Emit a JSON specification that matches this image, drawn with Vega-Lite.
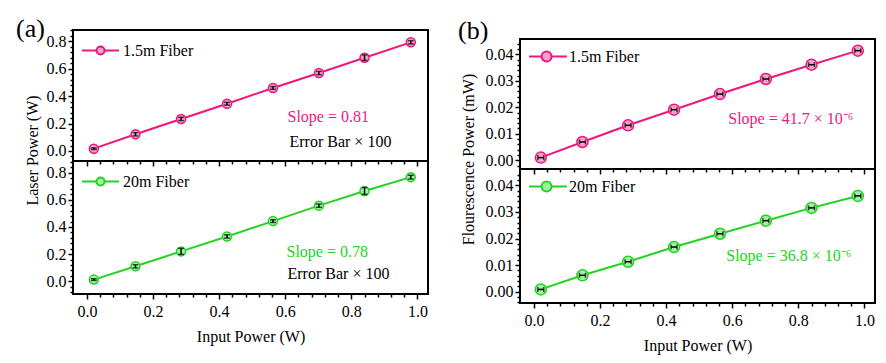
{
  "$schema": "https://vega.github.io/schema/vega-lite/v6.json",
  "background": "white",
  "padding": {"left": 16, "top": 16, "right": 5, "bottom": 5},
  "config": {
    "font": "Liberation Serif, Times New Roman, serif",
    "view": {"stroke": "black", "strokeWidth": 2},
    "axis": {
      "labelFont": "Liberation Serif, Times New Roman, serif", "labelFontSize": 16, "labelColor": "black",
      "titleFont": "Liberation Serif, Times New Roman, serif", "titleFontSize": 16, "titleFontWeight": "normal", "titleColor": "black",
      "tickColor": "black", "tickWidth": 1.5, "tickSize": 5, "domain": false, "grid": false, "labelPadding": 2
    },
    "axisX": {"labelPadding": 4, "titlePadding": 9},
    "legend": {"labelFont": "Liberation Serif, Times New Roman, serif", "labelFontSize": 16, "labelColor": "black"},
    "title": {"font": "Liberation Serif, Times New Roman, serif", "fontWeight": "normal", "color": "black"},
    "text": {"font": "Liberation Serif, Times New Roman, serif"}
  },
  "datasets": {
    "a1": [
      {"x": 0.021, "y": 0.017, "lo": 0.011, "hi": 0.023, "s": "1.5m Fiber"},
      {"x": 0.147, "y": 0.122, "lo": 0.110, "hi": 0.134, "s": "1.5m Fiber"},
      {"x": 0.285, "y": 0.234, "lo": 0.222, "hi": 0.246, "s": "1.5m Fiber"},
      {"x": 0.424, "y": 0.345, "lo": 0.335, "hi": 0.355, "s": "1.5m Fiber"},
      {"x": 0.563, "y": 0.460, "lo": 0.450, "hi": 0.470, "s": "1.5m Fiber"},
      {"x": 0.702, "y": 0.569, "lo": 0.557, "hi": 0.581, "s": "1.5m Fiber"},
      {"x": 0.840, "y": 0.681, "lo": 0.661, "hi": 0.701, "s": "1.5m Fiber"},
      {"x": 0.980, "y": 0.793, "lo": 0.781, "hi": 0.805, "s": "1.5m Fiber"}
    ],
    "a2": [
      {"x": 0.021, "y": 0.012, "lo": 0.006, "hi": 0.018, "s": "20m Fiber"},
      {"x": 0.147, "y": 0.110, "lo": 0.098, "hi": 0.122, "s": "20m Fiber"},
      {"x": 0.285, "y": 0.220, "lo": 0.198, "hi": 0.242, "s": "20m Fiber"},
      {"x": 0.424, "y": 0.330, "lo": 0.318, "hi": 0.342, "s": "20m Fiber"},
      {"x": 0.563, "y": 0.443, "lo": 0.433, "hi": 0.453, "s": "20m Fiber"},
      {"x": 0.702, "y": 0.557, "lo": 0.545, "hi": 0.569, "s": "20m Fiber"},
      {"x": 0.840, "y": 0.665, "lo": 0.640, "hi": 0.690, "s": "20m Fiber"},
      {"x": 0.980, "y": 0.767, "lo": 0.753, "hi": 0.781, "s": "20m Fiber"}
    ],
    "b1": [
      {"x": 0.021, "y": 0.0010, "lo": 0.012, "hi": 0.030, "s": "1.5m Fiber"},
      {"x": 0.147, "y": 0.0069, "lo": 0.138, "hi": 0.156, "s": "1.5m Fiber"},
      {"x": 0.285, "y": 0.0132, "lo": 0.276, "hi": 0.294, "s": "1.5m Fiber"},
      {"x": 0.424, "y": 0.0191, "lo": 0.415, "hi": 0.433, "s": "1.5m Fiber"},
      {"x": 0.563, "y": 0.0250, "lo": 0.554, "hi": 0.572, "s": "1.5m Fiber"},
      {"x": 0.702, "y": 0.0307, "lo": 0.693, "hi": 0.711, "s": "1.5m Fiber"},
      {"x": 0.840, "y": 0.0361, "lo": 0.831, "hi": 0.849, "s": "1.5m Fiber"},
      {"x": 0.980, "y": 0.0414, "lo": 0.971, "hi": 0.989, "s": "1.5m Fiber"}
    ],
    "b2": [
      {"x": 0.021, "y": 0.0009, "lo": 0.012, "hi": 0.030, "s": "20m Fiber"},
      {"x": 0.147, "y": 0.0062, "lo": 0.138, "hi": 0.156, "s": "20m Fiber"},
      {"x": 0.285, "y": 0.0113, "lo": 0.276, "hi": 0.294, "s": "20m Fiber"},
      {"x": 0.424, "y": 0.0168, "lo": 0.415, "hi": 0.433, "s": "20m Fiber"},
      {"x": 0.563, "y": 0.0218, "lo": 0.554, "hi": 0.572, "s": "20m Fiber"},
      {"x": 0.702, "y": 0.0267, "lo": 0.693, "hi": 0.711, "s": "20m Fiber"},
      {"x": 0.840, "y": 0.0315, "lo": 0.831, "hi": 0.849, "s": "20m Fiber"},
      {"x": 0.980, "y": 0.0360, "lo": 0.971, "hi": 0.989, "s": "20m Fiber"}
    ]
  },
  "resolve": {"scale": {"stroke": "independent"}},
  "spacing": 29,
  "hconcat": [
    {
      "title": {"text": "(a)", "anchor": "start", "frame": "group", "fontSize": 26, "offset": -14, "dx": -57},
      "spacing": 0,
      "bounds": "flush",
      "resolve": {"scale": {"stroke": "independent"}},
      "vconcat": [
        {
          "width": 355, "height": 131,
          "data": {"name": "a1"},
          "resolve": {"axis": {"x": "independent", "y": "independent"}},
          "layer": [
            {
              "mark": {"type": "line", "color": "#F0167F", "strokeWidth": 2},
              "encoding": {
                "x": {"field": "x", "type": "quantitative", "scale": {"domain": [-0.042, 1.032], "nice": false, "zero": false},
                      "axis": {"orient": "bottom", "values": [0, 0.2, 0.4, 0.6, 0.8, 1.0], "labels": false, "title": null}},
                "y": {"field": "y", "type": "quantitative", "scale": {"domain": [-0.073, 0.883], "nice": false, "zero": false},
                      "axis": {"orient": "left", "values": [0, 0.2, 0.4, 0.6, 0.8], "format": ".1f", "title": "Laser Power (W)", "titleY": 120, "titlePadding": 6}}
              }
            },
            {
              "mark": {"type": "point", "shape": "circle", "filled": false, "fill": "#F5A3CB", "fillOpacity": 1, "strokeWidth": 1.5, "size": 81, "opacity": 1},
              "encoding": {
                "x": {"field": "x", "type": "quantitative", "axis": null},
                "y": {"field": "y", "type": "quantitative", "axis": null},
                "stroke": {"field": "s", "type": "nominal", "scale": {"domain": ["1.5m Fiber"], "range": ["#F0167F"]},
                  "legend": {"orient": "top-left", "offset": 1, "title": null, "padding": 0, "labelOffset": 10,
                    "symbolType": "M-0.62,0L0.16,0M0.6,0L1.38,0M0.6,0A0.22,0.22,0,1,1,0.16,0A0.22,0.22,0,1,1,0.6,0Z",
                    "symbolSize": 1369, "symbolStrokeWidth": 2, "symbolFillColor": "#F5A3CB", "symbolStrokeColor": "#F0167F"}}
              }
            },
            {
              "mark": {"type": "rule", "color": "black", "strokeWidth": 1.5},
              "encoding": {
                "x": {"field": "x", "type": "quantitative",
                      "axis": {"orient": "bottom", "values": [0.04, 0.08, 0.12, 0.16, 0.24, 0.28, 0.32, 0.36, 0.44, 0.48, 0.52, 0.56, 0.64, 0.68, 0.72, 0.76, 0.84, 0.88, 0.92, 0.96], "labels": false, "tickSize": 3, "title": null}},
                "y": {"field": "lo", "type": "quantitative",
                      "axis": {"orient": "left", "values": [-0.04, 0.04, 0.08, 0.12, 0.16, 0.24, 0.28, 0.32, 0.36, 0.44, 0.48, 0.52, 0.56, 0.64, 0.68, 0.72, 0.76, 0.84, 0.88], "labels": false, "tickSize": 3, "title": null}},
                "y2": {"field": "hi"}
              }
            },
            {
              "mark": {"type": "tick", "orient": "horizontal", "color": "black", "size": 6, "thickness": 1.5},
              "encoding": {"x": {"field": "x", "type": "quantitative", "axis": null}, "y": {"field": "lo", "type": "quantitative", "axis": null}}
            },
            {
              "mark": {"type": "tick", "orient": "horizontal", "color": "black", "size": 6, "thickness": 1.5},
              "encoding": {"x": {"field": "x", "type": "quantitative", "axis": null}, "y": {"field": "hi", "type": "quantitative", "axis": null}}
            },
            {
              "data": {"values": [{"x": 0.607, "y": 0.248, "t": "Slope = 0.81", "c": "p"}, {"x": 0.613, "y": 0.068, "t": "Error Bar × 100", "c": "k"}]},
              "mark": {"type": "text", "align": "left", "baseline": "middle", "fontSize": 16},
              "encoding": {
                "x": {"field": "x", "type": "quantitative", "axis": null},
                "y": {"field": "y", "type": "quantitative", "axis": null},
                "text": {"field": "t"},
                "color": {"field": "c", "type": "nominal", "scale": {"domain": ["p", "k", "g"], "range": ["#F0167F", "black", "#22D322"]}, "legend": null}
              }
            }
          ]
        },
        {
          "width": 355, "height": 133,
          "data": {"name": "a2"},
          "resolve": {"axis": {"x": "independent", "y": "independent"}},
          "layer": [
            {
              "mark": {"type": "line", "color": "#22D322", "strokeWidth": 2},
              "encoding": {
                "x": {"field": "x", "type": "quantitative", "scale": {"domain": [-0.042, 1.032], "nice": false, "zero": false},
                      "axis": {"orient": "bottom", "values": [0, 0.2, 0.4, 0.6, 0.8, 1.0], "format": ".1f", "title": "Input Power (W)"}},
                "y": {"field": "y", "type": "quantitative", "scale": {"domain": [-0.094, 0.886], "nice": false, "zero": false},
                      "axis": {"orient": "left", "values": [0, 0.2, 0.4, 0.6, 0.8], "format": ".1f", "title": null}}
              }
            },
            {
              "mark": {"type": "point", "shape": "circle", "filled": false, "fill": "#A3F2A3", "fillOpacity": 1, "strokeWidth": 1.5, "size": 81, "opacity": 1},
              "encoding": {
                "x": {"field": "x", "type": "quantitative", "axis": null},
                "y": {"field": "y", "type": "quantitative", "axis": null},
                "stroke": {"field": "s", "type": "nominal", "scale": {"domain": ["20m Fiber"], "range": ["#22D322"]},
                  "legend": {"orient": "top-left", "offset": 1, "title": null, "padding": 0, "labelOffset": 10,
                    "symbolType": "M-0.62,0L0.16,0M0.6,0L1.38,0M0.6,0A0.22,0.22,0,1,1,0.16,0A0.22,0.22,0,1,1,0.6,0Z",
                    "symbolSize": 1369, "symbolStrokeWidth": 2, "symbolFillColor": "#A3F2A3", "symbolStrokeColor": "#22D322"}}
              }
            },
            {
              "mark": {"type": "rule", "color": "black", "strokeWidth": 1.5},
              "encoding": {
                "x": {"field": "x", "type": "quantitative",
                      "axis": {"orient": "bottom", "values": [0.04, 0.08, 0.12, 0.16, 0.24, 0.28, 0.32, 0.36, 0.44, 0.48, 0.52, 0.56, 0.64, 0.68, 0.72, 0.76, 0.84, 0.88, 0.92, 0.96], "labels": false, "tickSize": 3, "title": null}},
                "y": {"field": "lo", "type": "quantitative",
                      "axis": {"orient": "left", "values": [-0.08, -0.04, 0.04, 0.08, 0.12, 0.16, 0.24, 0.28, 0.32, 0.36, 0.44, 0.48, 0.52, 0.56, 0.64, 0.68, 0.72, 0.76, 0.84, 0.88], "labels": false, "tickSize": 3, "title": null}},
                "y2": {"field": "hi"}
              }
            },
            {
              "mark": {"type": "tick", "orient": "horizontal", "color": "black", "size": 6, "thickness": 1.5},
              "encoding": {"x": {"field": "x", "type": "quantitative", "axis": null}, "y": {"field": "lo", "type": "quantitative", "axis": null}}
            },
            {
              "mark": {"type": "tick", "orient": "horizontal", "color": "black", "size": 6, "thickness": 1.5},
              "encoding": {"x": {"field": "x", "type": "quantitative", "axis": null}, "y": {"field": "hi", "type": "quantitative", "axis": null}}
            },
            {
              "data": {"values": [{"x": 0.604, "y": 0.216, "t": "Slope = 0.78", "c": "g"}, {"x": 0.607, "y": 0.056, "t": "Error Bar × 100", "c": "k"}]},
              "mark": {"type": "text", "align": "left", "baseline": "middle", "fontSize": 16},
              "encoding": {
                "x": {"field": "x", "type": "quantitative", "axis": null},
                "y": {"field": "y", "type": "quantitative", "axis": null},
                "text": {"field": "t"},
                "color": {"field": "c", "type": "nominal", "scale": {"domain": ["p", "k", "g"], "range": ["#F0167F", "black", "#22D322"]}, "legend": null}
              }
            }
          ]
        }
      ]
    },
    {
      "title": {"text": "(b)", "anchor": "start", "frame": "group", "fontSize": 26, "offset": -14, "dx": -62},
      "spacing": 0,
      "bounds": "flush",
      "resolve": {"scale": {"stroke": "independent"}},
      "vconcat": [
        {
          "width": 355, "height": 9,
          "view": {"stroke": null},
          "data": {"values": []},
          "mark": {"type": "point", "opacity": 0},
          "encoding": {}
        },
        {
          "width": 355, "height": 130,
          "data": {"name": "b1"},
          "resolve": {"axis": {"x": "independent", "y": "independent"}},
          "layer": [
            {
              "mark": {"type": "line", "color": "#F0167F", "strokeWidth": 2},
              "encoding": {
                "x": {"field": "x", "type": "quantitative", "scale": {"domain": [-0.042, 1.032], "nice": false, "zero": false},
                      "axis": {"orient": "bottom", "values": [0, 0.2, 0.4, 0.6, 0.8, 1.0], "labels": false, "title": null}},
                "y": {"field": "y", "type": "quantitative", "scale": {"domain": [-0.0033, 0.0458], "nice": false, "zero": false},
                      "axis": {"orient": "left", "values": [0, 0.01, 0.02, 0.03, 0.04], "format": ".2f", "title": "Flourescence Power (mW)", "titleY": 120, "titlePadding": 9}}
              }
            },
            {
              "mark": {"type": "point", "shape": "circle", "filled": false, "fill": "#F5A3CB", "fillOpacity": 1, "strokeWidth": 1.5, "size": 121, "opacity": 1},
              "encoding": {
                "x": {"field": "x", "type": "quantitative", "axis": null},
                "y": {"field": "y", "type": "quantitative", "axis": null},
                "stroke": {"field": "s", "type": "nominal", "scale": {"domain": ["1.5m Fiber"], "range": ["#F0167F"]},
                  "legend": {"orient": "top-left", "offset": -2, "title": null, "padding": 0, "labelOffset": 12,
                    "symbolType": "M-0.46,0L0.22,0M0.76,0L1.59,0M0.76,0A0.27,0.27,0,1,1,0.22,0A0.27,0.27,0,1,1,0.76,0Z",
                    "symbolSize": 1369, "symbolStrokeWidth": 2, "symbolFillColor": "#F5A3CB", "symbolStrokeColor": "#F0167F"}}
              }
            },
            {
              "mark": {"type": "rule", "color": "black", "strokeWidth": 1.5},
              "encoding": {
                "x": {"field": "lo", "type": "quantitative",
                      "axis": {"orient": "bottom", "values": [0.04, 0.08, 0.12, 0.16, 0.24, 0.28, 0.32, 0.36, 0.44, 0.48, 0.52, 0.56, 0.64, 0.68, 0.72, 0.76, 0.84, 0.88, 0.92, 0.96], "labels": false, "tickSize": 3, "title": null}},
                "x2": {"field": "hi"},
                "y": {"field": "y", "type": "quantitative",
                      "axis": {"orient": "left", "values": [-0.002, 0.002, 0.004, 0.006, 0.008, 0.012, 0.014, 0.016, 0.018, 0.022, 0.024, 0.026, 0.028, 0.032, 0.034, 0.036, 0.038, 0.042, 0.044], "labels": false, "tickSize": 3, "title": null}}
              }
            },
            {
              "mark": {"type": "tick", "orient": "vertical", "color": "black", "size": 5, "thickness": 1.5},
              "encoding": {"x": {"field": "lo", "type": "quantitative", "axis": null}, "y": {"field": "y", "type": "quantitative", "axis": null}}
            },
            {
              "mark": {"type": "tick", "orient": "vertical", "color": "black", "size": 5, "thickness": 1.5},
              "encoding": {"x": {"field": "hi", "type": "quantitative", "axis": null}, "y": {"field": "y", "type": "quantitative", "axis": null}}
            },
            {
              "data": {"values": [{"x": 0.588, "y": 0.0156, "t": "Slope = 41.7 × 10⁻⁶", "c": "p"}]},
              "mark": {"type": "text", "align": "left", "baseline": "middle", "fontSize": 16},
              "encoding": {
                "x": {"field": "x", "type": "quantitative", "axis": null},
                "y": {"field": "y", "type": "quantitative", "axis": null},
                "text": {"field": "t"},
                "color": {"field": "c", "type": "nominal", "scale": {"domain": ["p", "k", "g"], "range": ["#F0167F", "black", "#22D322"]}, "legend": null}
              }
            }
          ]
        },
        {
          "width": 355, "height": 134,
          "data": {"name": "b2"},
          "resolve": {"axis": {"x": "independent", "y": "independent"}},
          "layer": [
            {
              "mark": {"type": "line", "color": "#22D322", "strokeWidth": 2},
              "encoding": {
                "x": {"field": "x", "type": "quantitative", "scale": {"domain": [-0.042, 1.032], "nice": false, "zero": false},
                      "axis": {"orient": "bottom", "values": [0, 0.2, 0.4, 0.6, 0.8, 1.0], "format": ".1f", "title": "Input Power (W)"}},
                "y": {"field": "y", "type": "quantitative", "scale": {"domain": [-0.0042, 0.0461], "nice": false, "zero": false},
                      "axis": {"orient": "left", "values": [0, 0.01, 0.02, 0.03, 0.04], "format": ".2f", "title": null}}
              }
            },
            {
              "mark": {"type": "point", "shape": "circle", "filled": false, "fill": "#A3F2A3", "fillOpacity": 1, "strokeWidth": 1.5, "size": 121, "opacity": 1},
              "encoding": {
                "x": {"field": "x", "type": "quantitative", "axis": null},
                "y": {"field": "y", "type": "quantitative", "axis": null},
                "stroke": {"field": "s", "type": "nominal", "scale": {"domain": ["20m Fiber"], "range": ["#22D322"]},
                  "legend": {"orient": "top-left", "offset": -2, "title": null, "padding": 0, "labelOffset": 12,
                    "symbolType": "M-0.46,0L0.22,0M0.76,0L1.59,0M0.76,0A0.27,0.27,0,1,1,0.22,0A0.27,0.27,0,1,1,0.76,0Z",
                    "symbolSize": 1369, "symbolStrokeWidth": 2, "symbolFillColor": "#A3F2A3", "symbolStrokeColor": "#22D322"}}
              }
            },
            {
              "mark": {"type": "rule", "color": "black", "strokeWidth": 1.5},
              "encoding": {
                "x": {"field": "lo", "type": "quantitative",
                      "axis": {"orient": "bottom", "values": [0.04, 0.08, 0.12, 0.16, 0.24, 0.28, 0.32, 0.36, 0.44, 0.48, 0.52, 0.56, 0.64, 0.68, 0.72, 0.76, 0.84, 0.88, 0.92, 0.96], "labels": false, "tickSize": 3, "title": null}},
                "x2": {"field": "hi"},
                "y": {"field": "y", "type": "quantitative",
                      "axis": {"orient": "left", "values": [-0.004, -0.002, 0.002, 0.004, 0.006, 0.008, 0.012, 0.014, 0.016, 0.018, 0.022, 0.024, 0.026, 0.028, 0.032, 0.034, 0.036, 0.038, 0.042, 0.044], "labels": false, "tickSize": 3, "title": null}}
              }
            },
            {
              "mark": {"type": "tick", "orient": "vertical", "color": "black", "size": 5, "thickness": 1.5},
              "encoding": {"x": {"field": "lo", "type": "quantitative", "axis": null}, "y": {"field": "y", "type": "quantitative", "axis": null}}
            },
            {
              "mark": {"type": "tick", "orient": "vertical", "color": "black", "size": 5, "thickness": 1.5},
              "encoding": {"x": {"field": "hi", "type": "quantitative", "axis": null}, "y": {"field": "y", "type": "quantitative", "axis": null}}
            },
            {
              "data": {"values": [{"x": 0.582, "y": 0.0134, "t": "Slope = 36.8 × 10⁻⁶", "c": "g"}]},
              "mark": {"type": "text", "align": "left", "baseline": "middle", "fontSize": 16},
              "encoding": {
                "x": {"field": "x", "type": "quantitative", "axis": null},
                "y": {"field": "y", "type": "quantitative", "axis": null},
                "text": {"field": "t"},
                "color": {"field": "c", "type": "nominal", "scale": {"domain": ["p", "k", "g"], "range": ["#F0167F", "black", "#22D322"]}, "legend": null}
              }
            }
          ]
        }
      ]
    }
  ]
}
